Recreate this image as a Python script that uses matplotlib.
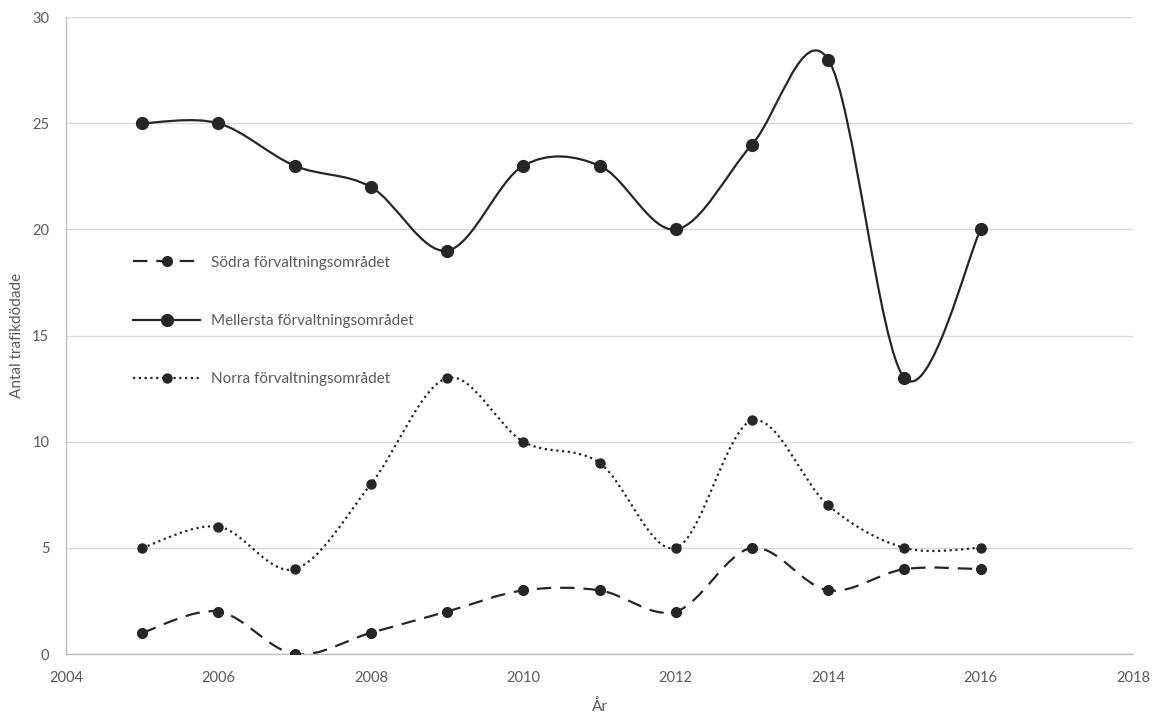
import numpy as np
import matplotlib.pyplot as plt
from matplotlib.path import Path
from matplotlib.patches import PathPatch
from matplotlib.lines import Line2D

plt.rcParams['font.family'] = ['Lato', 'DejaVu Sans']

years = [2005, 2006, 2007, 2008, 2009, 2010, 2011, 2012, 2013, 2014, 2015, 2016]
sodra = [1, 2, 0, 1, 2, 3, 3, 2, 5, 3, 4, 4]
mellersta = [25, 25, 23, 22, 19, 23, 23, 20, 24, 28, 13, 20]
norra = [5, 6, 4, 8, 13, 10, 9, 5, 11, 7, 5, 5]

labels = ['Södra förvaltningsområdet', 'Mellersta förvaltningsområdet', 'Norra förvaltningsområdet']
dark = '#262626'
grey = '#595959'


def smooth_path(x, y):
    # Bezier segments like Excel's "smoothed line"
    p = np.column_stack([x, y]).astype(float)
    n = len(p)
    verts = [p[0]]
    codes = [Path.MOVETO]
    for i in range(n - 1):
        p0 = p[i - 1] if i > 0 else p[i]
        p1 = p[i]
        p2 = p[i + 1]
        p3 = p[i + 2] if i + 2 < n else p[i + 1]
        c1 = p1 + (p2 - p0) / 6
        c2 = p2 - (p3 - p1) / 6
        verts += [c1, c2, p2]
        codes += [Path.CURVE4] * 3
    return Path(verts, codes)


fig = plt.figure(figsize=(11.55, 7.14), dpi=100)
ax = fig.add_axes([0.0571, 0.084, 0.924, 0.892])

series = [
    (sodra, (0, (6.5, 4)), 7, 'o'),
    (mellersta, '-', 8.5, 'o'),
    (norra, (0, (1, 1.6)), 6.5, 'o'),
]

handles = []
for (vals, ls, ms, mk), lab in zip(series, labels):
    patch = PathPatch(smooth_path(years, vals), fill=False, edgecolor=dark,
                      linewidth=1.6, linestyle=ls, zorder=3)
    ax.add_patch(patch)
    ax.plot(years, vals, linestyle='none', marker=mk, markersize=ms,
            color=dark, zorder=4)
    handles.append(Line2D([], [], color=dark, linestyle=ls, linewidth=1.6,
                          marker=mk, markersize=ms))

ax.set_xlim(2004, 2018)
ax.set_ylim(0, 30)
ax.set_xticks(range(2004, 2019, 2))
ax.set_yticks(range(0, 31, 5))
ax.yaxis.grid(True, color='#d9d9d9', linewidth=1)
ax.set_axisbelow(True)
for s in ['top', 'right']:
    ax.spines[s].set_visible(False)
for s in ['left', 'bottom']:
    ax.spines[s].set_color('#bfbfbf')
    ax.spines[s].set_linewidth(1)
ax.tick_params(axis='x', length=0, colors=grey, labelsize=10.5, pad=12)
ax.tick_params(axis='y', length=0, colors=grey, labelsize=10.5, pad=12)

ax.set_xlabel('År', color=grey, fontsize=11, labelpad=10)
ax.set_ylabel('Antal trafikdödade', color=grey, fontsize=11, labelpad=6)

leg = ax.legend(handles, labels, loc='upper left', bbox_to_anchor=(0.05, 0.647),
                frameon=False, fontsize=11, labelspacing=2.9, handlelength=4.4,
                handletextpad=0.7, labelcolor=grey)

fig.savefig('out.png', dpi=100)
